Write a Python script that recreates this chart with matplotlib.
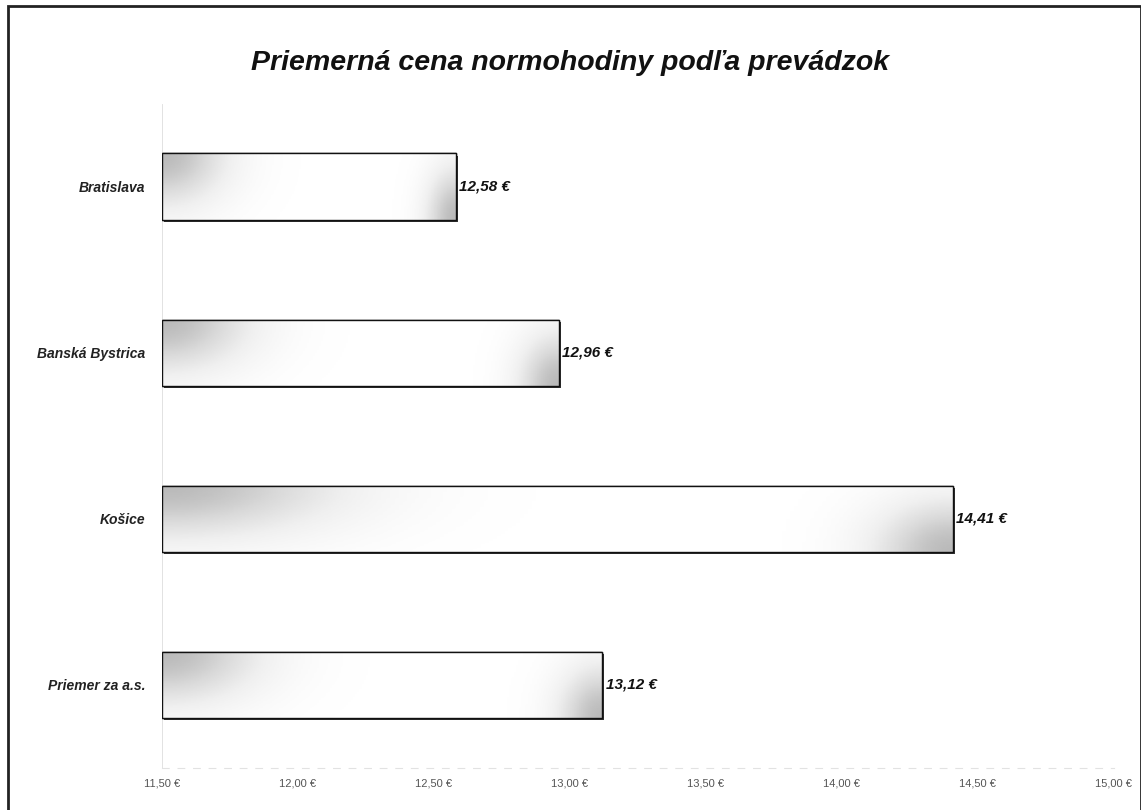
import numpy as np
import matplotlib
matplotlib.use("Agg")
import matplotlib.pyplot as plt
from matplotlib.patches import Rectangle
import matplotlib.ticker as plticker

# data
prevadzky = ["Bratislava", "Banská Bystrica", "Košice", "Priemer za a.s."]
cena = [12.58, 12.96, 14.41, 13.12]
x_min, x_max = 11.50, 15.00

plt.rcParams['font.family'] = ['Liberation Sans', 'DejaVu Sans']

fig = plt.figure(figsize=(11.41, 8.10), dpi=100)
ax = fig.add_axes([0.142, 0.052, 0.834, 0.820])

# gradient used inside every bar: grey corners, white middle
gx, gy = np.meshgrid(np.linspace(0, 1, 200), np.linspace(0, 1, 40))
grad = np.maximum(np.exp(-((gx / 0.22) ** 2 + (gy / 0.8) ** 2)),
                  np.exp(-(((1 - gx) / 0.10) ** 2 + ((1 - gy) / 0.8) ** 2)))

y_pos = np.arange(len(prevadzky))[::-1]
bar_h = 0.40
for y, v in zip(y_pos, cena):
    # thin shadow at bottom and right
    ax.add_patch(Rectangle((x_min + 0.007, y - bar_h / 2 - 0.014), v - x_min, bar_h,
                           facecolor="#333333", edgecolor="none", zorder=2))
    bar = ax.barh(y, v - x_min, left=x_min, height=bar_h, color="white",
                  edgecolor="#111111", linewidth=1.0, zorder=3)[0]
    im = ax.imshow(grad, cmap="Greys", vmin=0, vmax=2.6, aspect="auto",
                   extent=(x_min, v, y - bar_h / 2, y + bar_h / 2),
                   origin="upper", zorder=4)
    im.set_clip_path(bar)
    ax.add_patch(Rectangle((x_min, y - bar_h / 2), v - x_min, bar_h,
                           facecolor="none", edgecolor="#111111", linewidth=1.0, zorder=5))
    ax.text(v + 0.012, y, f"{v:.2f} €".replace(".", ","), va="center", ha="left",
            fontsize=11, fontweight="bold", style="italic", color="#111111")

ax.set_xlim(x_min, x_max)
ax.set_ylim(-0.5, 3.5)
ax.set_yticks(y_pos)
ax.set_yticklabels(prevadzky, fontsize=10, fontweight="bold", style="italic",
                   color="#222222")
ax.xaxis.set_major_locator(plticker.MultipleLocator(0.5))
ax.xaxis.set_major_formatter(plticker.FuncFormatter(
    lambda x, p: f"{x:.2f} €".replace(".", ",")))
ax.tick_params(axis="x", labelsize=8, colors="#555555", length=0, pad=8)
ax.tick_params(axis="y", length=0, pad=12)
for s in ["top", "right"]:
    ax.spines[s].set_visible(False)
ax.spines["left"].set_color("#dddddd")
ax.spines["left"].set_linewidth(0.6)
ax.spines["bottom"].set_color("#e2e2e2")
ax.spines["bottom"].set_linestyle((0, (6, 8)))

fig.text(0.5, 0.922, "Priemerná cena normohodiny podľa prevádzok", ha="center",
         va="center", fontsize=20.5, fontweight="bold", style="italic", color="#111111")

# outer frame of the scanned chart
fig.add_artist(Rectangle((0.007, -0.02), 0.993, 1.013, transform=fig.transFigure,
                         facecolor="none", edgecolor="#222222", linewidth=2))

fig.savefig("out.png", dpi=100)
